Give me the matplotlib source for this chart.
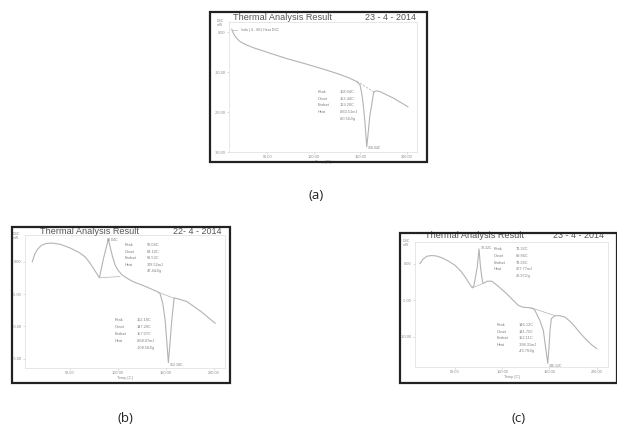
import matplotlib
from matplotlib import pyplot as plt
from matplotlib.patches import Rectangle

matplotlib.use("Agg")

W, H = 617, 428

# (a) single endotherm
a_temp = [11.5, 13, 15, 17, 20, 24, 27.6, 35, 45, 52.7, 70, 88.5, 106, 124, 138, 146,
          149.5, 151.5, 153, 155, 156.7, 158, 160, 162, 163.5, 164.5, 167, 171, 186, 201]
a_dsc = [0.7, -0.2, -1.0, -1.6, -2.3, -2.85, -3.25, -3.95, -4.7, -5.3, -6.6, -7.8, -9.0,
         -10.3, -11.5, -12.4, -13.2, -15.5, -18.2, -23.0, -28.7, -26.0, -21.0, -18.3,
         -16.0, -15.0, -14.7, -14.9, -16.6, -18.7]
a_base_t = [146, 166]
a_base_y = [-12.3, -15.2]

# (b) exotherm + endotherm
b_temp = [10.6, 13, 16, 20, 25, 32, 40, 50, 60, 66, 71, 76, 80.7, 85, 90, 94, 97, 100,
          104, 110, 116, 130, 140.7, 144, 147, 149.4, 151.5, 152.8, 154.5, 156.4, 158.8,
          163, 172, 187, 201.7]
b_dsc = [0.0, 1.1, 1.9, 2.5, 2.8, 2.85, 2.65, 2.1, 1.35, 0.7, -0.25, -1.4, -2.5, 0.5,
         3.45, 1.0, -0.5, -1.3, -2.0, -2.6, -3.1, -3.9, -4.6, -4.9, -6.5, -9.0, -13.0,
         -15.6, -12.5, -9.0, -5.6, -5.75, -6.15, -7.7, -9.5]
b_base1_t = [80.7, 102.3]
b_base1_y = [-2.5, -2.3]
b_base2_t = [142, 159.5]
b_base2_y = [-4.7, -5.7]

# (c) exotherm + endotherm
c_temp = [12.9, 16, 20, 25, 30, 36, 43, 50, 56, 60.6, 65, 68.3, 70, 73.5, 75.4, 77, 79,
          80, 84, 88.9, 95, 103, 110, 117, 122, 127.6, 133, 134.7, 140, 143.5, 146,
          148.2, 149.5, 150.6, 152, 156, 161, 166.5, 172, 177, 182, 187.7, 194, 200]
c_dsc = [0.0, 0.6, 1.0, 1.1, 1.05, 0.8, 0.35, -0.23, -1.0, -1.8, -2.7, -3.3, -3.0, -0.5,
         2.0, -0.5, -2.4, -2.7, -2.4, -2.4, -3.0, -3.9, -4.8, -5.7, -5.95, -6.0, -6.15,
         -6.4, -7.8, -9.1, -11.5, -13.6, -11.5, -9.1, -7.5, -7.1, -7.1, -7.3, -7.9,
         -8.6, -9.4, -10.2, -11.0, -11.6]
c_base1_t = [68.3, 80]
c_base1_y = [-3.3, -2.7]
c_base2_t = [130, 156]
c_base2_y = [-6.0, -7.1]

x_ticks = [50, 100, 150, 200]
a_yticks = [0, -10, -20, -30]
bc_yticks = [0, -5, -10, -15]

a_info = ["158.04C", "153.44C", "163.20C", "-860.51mJ", "-80.56J/g"]
b_info1 = ["92.04C", "84.10C", "98.53C", "378.52mJ", "47.44J/g"]
b_info2 = ["152.18C", "147.29C", "157.07C", "-868.87mJ", "-108.58J/g"]
c_info1 = ["78.32C", "69.86C", "79.26C", "207.77mJ", "29.97J/g"]
c_info2 = ["146.12C", "141.75C", "152.11C", "-398.31mJ", "-49.79J/g"]
info_keys = ["Peak", "Onset", "Endset", "Heat"]

CURVE = "#b3b3b3"
TXT = "#808080"
SANS = "Liberation Sans"

fig = plt.figure(figsize=(W / 100, H / 100), dpi=100)


def px_axes(x0, y0, x1, y1):
    return fig.add_axes([x0 / W, 1 - y1 / H, (x1 - x0) / W, (y1 - y0) / H])


def ftext(x, y, s, **kw):
    kw.setdefault("family", SANS)
    fig.text(x / W, 1 - y / H, s, **kw)


def panel(box, plot, xlim, ylim, yticks, title_xy, date_xy, date):
    # outer screenshot frame
    fig.patches.append(Rectangle((box[0] / W, 1 - box[3] / H),
                                 (box[2] - box[0]) / W, (box[3] - box[1]) / H,
                                 transform=fig.transFigure, fill=False,
                                 edgecolor="#222222", linewidth=1.6, zorder=5))
    ax = px_axes(*plot)
    ax.set_xlim(*xlim)
    ax.set_ylim(*ylim)
    ax.set_xticks(x_ticks)
    ax.set_xticklabels([f"{t:.2f}" for t in x_ticks], family=SANS)
    ax.set_yticks(yticks)
    ax.set_yticklabels([f"{t:.2f}" for t in yticks], family=SANS)
    ax.tick_params(labelsize=2.8, colors="#c0c0c0", labelcolor="#888888",
                   length=1.5, width=0.4, pad=1)
    for sp in ax.spines.values():
        sp.set_color("#dddddd")
        sp.set_linewidth(0.5)
    ax.set_xlabel("Temp [C]", fontsize=2.8, color="#888888", labelpad=0.5,
                  family=SANS)
    ftext(title_xy[0], title_xy[1], "Thermal Analysis Result", fontsize=6.6,
          color="#555555", va="center", ha="left")
    ftext(date_xy[0], date_xy[1], date, fontsize=6.4, color="#555555",
          va="center", ha="left")
    ftext(plot[0] - 9, plot[1] + 1, "DSC\nmW", fontsize=2.5, color="#888888",
          va="center", ha="center", linespacing=0.9)
    return ax


def info_block(x, y, vals, dy=6.6):
    for i, k in enumerate(info_keys):
        ftext(x, y + i * dy, k, fontsize=2.8, color=TXT, va="center")
    for i, v in enumerate(vals[:4]):
        ftext(x + 22, y + i * dy, v, fontsize=2.8, color=TXT, va="center")
    ftext(x + 22, y + 4 * dy, vals[4], fontsize=2.8, color=TXT, va="center")


# panel (a)
ax = panel((210, 12, 427, 162), (229, 22, 417, 152), (8.6, 210.8), (-30, 2.5),
           a_yticks, (233, 17.5), (365, 17.5), "23 - 4 - 2014")
ax.plot(a_temp, a_dsc, color=CURVE, linewidth=0.8)
ax.plot(a_base_t, a_base_y, color=CURVE, linewidth=0.5, linestyle="--")
ax.plot([12, 17], [0.4, 0.4], color=CURVE, linewidth=0.5)
ax.text(22, 0.4, "Indo | 4 - 801 Heat DSC", fontsize=2.6, color=TXT, va="center",
        family=SANS)
ax.text(a_temp[20] + 1, a_dsc[20] - 0.3, a_info[0], fontsize=2.6, color=TXT,
        va="center", family=SANS)
info_block(318, 92.3, a_info)

# panel (b)
ax = panel((12, 227, 230, 383), (25, 235, 225, 368), (2.9, 212), (-16.4, 4.1),
           bc_yticks, (40, 231), (173, 231.5), "22- 4 - 2014")
ax.plot(b_temp, b_dsc, color=CURVE, linewidth=0.8)
ax.plot(b_base1_t, b_base1_y, color=CURVE, linewidth=0.5)
ax.plot(b_base2_t, b_base2_y, color=CURVE, linewidth=0.5)
ax.text(b_temp[14] - 1.5, b_dsc[14] - 0.1, b_info1[0], fontsize=2.6, color=TXT,
        va="center", family=SANS)
ax.text(b_temp[27] + 1, b_dsc[27] - 0.3, b_info2[0], fontsize=2.6, color=TXT,
        va="center", family=SANS)
info_block(125, 245, b_info1)
info_block(115, 320, b_info2, dy=7)

# panel (c)
ax = panel((400, 233, 617, 383), (415, 242, 608, 367), (7.6, 212), (-14.1, 2.95),
           bc_yticks[:3], (425, 236), (553, 236), "23 - 4 - 2014")
ax.plot(c_temp, c_dsc, color=CURVE, linewidth=0.8)
ax.plot(c_base1_t, c_base1_y, color=CURVE, linewidth=0.5)
ax.plot(c_base2_t, c_base2_y, color=CURVE, linewidth=0.5)
ax.text(c_temp[14] + 2, c_dsc[14] + 0.1, c_info1[0], fontsize=2.6, color=TXT,
        va="center", family=SANS)
ax.text(c_temp[31] + 1, c_dsc[31] - 0.3, c_info2[0], fontsize=2.6, color=TXT,
        va="center", family=SANS)
info_block(494, 249.3, c_info1)
info_block(497, 325, c_info2)

# captions
for lab, x, y in [("(a)", 316, 196), ("(b)", 125, 419), ("(c)", 519, 419)]:
    ftext(x, y, lab, fontsize=9.5, ha="center", va="center", color="#222222",
          family="Open Sans")

fig.savefig("out.png", dpi=100, facecolor="white")
